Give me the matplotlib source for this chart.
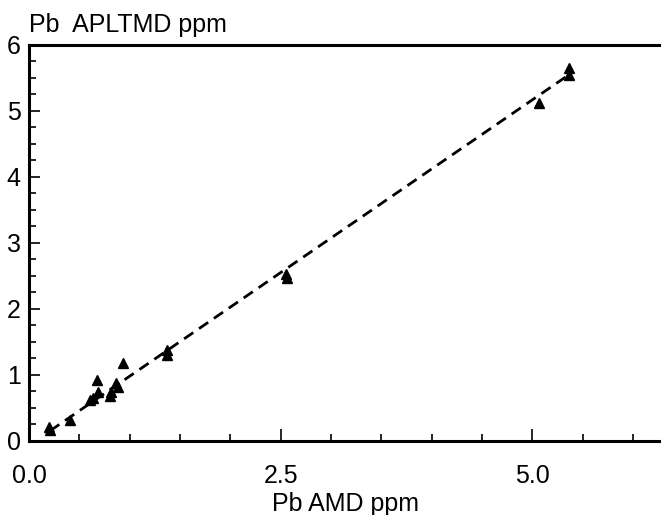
import matplotlib
matplotlib.use("Agg")
import matplotlib.pyplot as plt
from matplotlib.ticker import MultipleLocator, FixedLocator

plt.rcParams['font.family'] = ['Liberation Sans', 'DejaVu Sans']

# values
pb_amd = [0.20, 0.21, 0.41, 0.61, 0.64, 0.69, 0.68, 0.80, 0.81, 0.86, 0.88, 0.93,
          1.37, 1.37, 2.55, 2.56, 5.07, 5.37, 5.37]
pb_apltmd = [0.21, 0.16, 0.32, 0.61, 0.64, 0.74, 0.92, 0.68, 0.74, 0.87, 0.82, 1.18,
             1.37, 1.30, 2.53, 2.47, 5.11, 5.64, 5.54]

# dashed fit line, ends
fit_x = [0.21, 5.37]
fit_y = [0.15, 5.55]

x_major = [0.0, 2.5, 5.0]
x_labels = ["0.0", "2.5", "5.0"]

fig = plt.figure(figsize=(6.61, 5.15), dpi=100)
ax = fig.add_axes([29 / 661, 74.3 / 515, 1 - 29 / 661, 396 / 515])

ax.plot(fit_x, fit_y, color="black", lw=2.0, dashes=(4, 2.5))
ax.plot(pb_amd, pb_apltmd, ls="none", marker="^", ms=7, color="black")

ax.set_xlim(0, 6.28)
ax.set_ylim(0, 6)

ax.xaxis.set_major_locator(FixedLocator(x_major))
ax.set_xticklabels(x_labels)
ax.xaxis.set_minor_locator(MultipleLocator(0.5))
ax.yaxis.set_major_locator(MultipleLocator(1))
ax.yaxis.set_minor_locator(MultipleLocator(0.25))

ax.tick_params(which="both", direction="in", width=1.2, top=False, right=False)
ax.tick_params(axis="x", which="major", length=9, pad=17, labelsize=18)
ax.tick_params(axis="x", which="minor", length=5)
ax.tick_params(axis="y", which="major", length=8, pad=6, labelsize=18)
ax.tick_params(axis="y", which="minor", length=5)

for s in ["left", "bottom", "top"]:
    ax.spines[s].set_linewidth(2.2)
ax.spines["right"].set_visible(False)

ax.set_xlabel("Pb AMD ppm", fontsize=18, labelpad=3)
fig.text(29 / 661, 1 - 32 / 515, "Pb  APLTMD ppm", fontsize=18, ha="left", va="baseline")

fig.savefig("out.png", dpi=100)
